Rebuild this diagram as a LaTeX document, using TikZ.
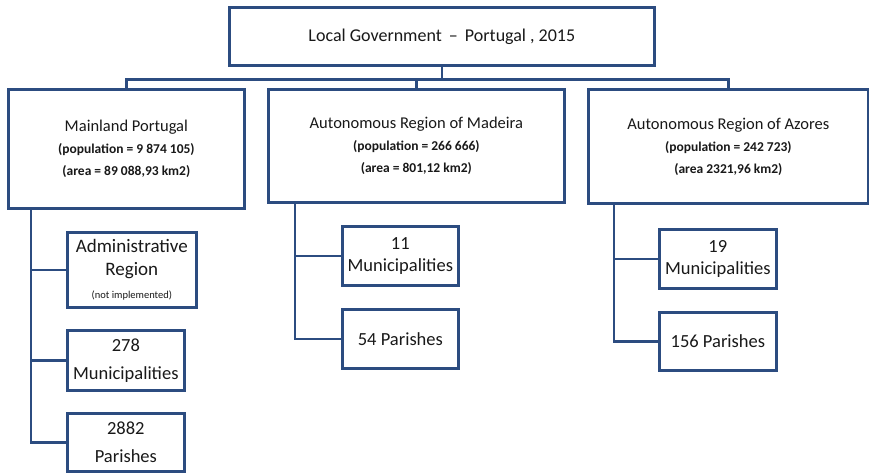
\documentclass[tikz,border=0pt]{standalone}
\usepackage{fontspec}
\setmainfont{Carlito}
\usepackage{xcolor}
\usepackage{tikz}
\usetikzlibrary{calc}
\definecolor{orgblue}{RGB}{44,76,128}
\tikzset{
	box/.style={draw=orgblue, line width=2.7pt, fill=white,
		anchor=north west, align=center, inner sep=0pt,
		text=black!90},
	link/.style={draw=orgblue, line width=2.7pt},
	regionbox/.style={box, font=\fontsize{16.5}{22}\selectfont},
	unitbox/.style={box, font=\fontsize{18.5}{22}\selectfont}
}
\newcommand{\info}[1]{{\fontsize{13.5}{14}\selectfont\bfseries #1}}

\begin{document}
\begin{tikzpicture}[x=1pt, y=-1pt]
	\useasboundingbox (0,0) rectangle (869,473);
	
	\node (top) [box, minimum width=425pt, minimum height=58pt,
		font=\fontsize{18}{21}\selectfont] at (228,6)
		{Local Government \,--\, Portugal , 2015};
	
	\node (main) [regionbox, minimum width=236pt, minimum height=119pt] at (7,88)
		{Mainland Portugal\\ \info{(population = 9 874 105)}\\ \info{(area = 89 088,93 km2)}};
	\node (madeira) [regionbox, minimum width=296pt, minimum height=113pt] at (267,88)
		{Autonomous Region of Madeira\\ \info{(population = 266 666)}\\ \info{(area = 801,12 km2)}};
	\node (azores) [regionbox, minimum width=280pt, minimum height=114pt] at (587,88)
		{Autonomous Region of Azores\\ \info{(population = 242 723)}\\ \info{(area 2321,96 km2)}};
	
	\coordinate (bus) at ($ (top.south) + (0,13) $);
	\draw [link] (top.south) -- (bus);
	\draw [link] (bus) -| (main.north);
	\draw [link] (bus) -| (madeira.north);
	\draw [link] (bus) -| (azores.north);
	
	% mainland
	\node (admin) [unitbox, minimum width=129pt, minimum height=75pt,
		font=\fontsize{19}{23}\selectfont] at (66,231)
		{Administrative\\ Region\\ {\fontsize{10.5}{11}\selectfont (not implemented)}};
	\node (mun278) [unitbox, minimum width=117pt, minimum height=60pt,
		font=\fontsize{18.5}{28}\selectfont] at (66,329) {278\\ Municipalities};
	\node (par2882) [unitbox, minimum width=117pt, minimum height=58pt,
		font=\fontsize{18.5}{28}\selectfont] at (66,412) {2882\\ Parishes};
	\coordinate (mspine) at ($ (main.south west) + (24,0) $);
	\draw [link] (mspine) |- (admin.west);
	\draw [link] (mspine) |- (mun278.west);
	\draw [link] (mspine) |- (par2882.west);
	
	% madeira
	\node (mun11) [unitbox, minimum width=116pt, minimum height=59pt] at (341,225) {11\\ Municipalities};
	\node (par54) [unitbox, minimum width=116pt, minimum height=59pt] at (341,308) {54 Parishes};
	\coordinate (dspine) at ($ (madeira.south west) + (28,0) $);
	\draw [link] (dspine) |- (mun11.west);
	\draw [link] (dspine) |- (par54.west);
	
	% azores
	\node (mun19) [unitbox, minimum width=117pt, minimum height=59pt] at (658,228) {19\\ Municipalities};
	\node (par156) [unitbox, minimum width=117pt, minimum height=58pt] at (658,311) {156 Parishes};
	\coordinate (aspine) at ($ (azores.south west) + (27,0) $);
	\draw [link] (aspine) |- (mun19.west);
	\draw [link] (aspine) |- (par156.west);
	
\end{tikzpicture}
\end{document}
